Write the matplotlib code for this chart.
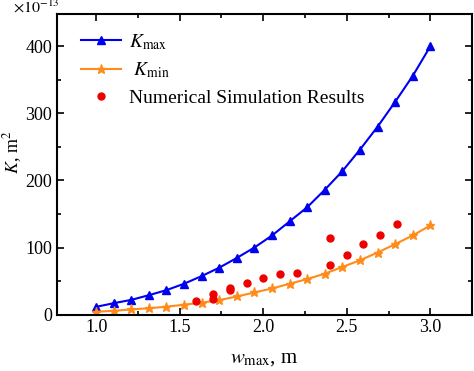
import numpy as np
import matplotlib
matplotlib.use('Agg')
import matplotlib.pyplot as plt
from matplotlib.ticker import MultipleLocator

plt.rcParams['font.family'] = ['Liberation Serif', 'DejaVu Serif']
plt.rcParams['mathtext.fontset'] = 'stix'

# w_max positions of the model curves (20 points from 1 to 3)
w = [1.000, 1.105, 1.211, 1.316, 1.421, 1.526, 1.632, 1.737, 1.842, 1.947,
     2.053, 2.158, 2.263, 2.368, 2.474, 2.579, 2.684, 2.789, 2.895, 3.000]
k_max = [11.6, 17.0, 22.0, 29.0, 36.5, 46.0, 57.5, 70.0, 84.5, 100.0,
         118.0, 139.0, 160.0, 186.0, 214.0, 246.0, 280.0, 317.0, 356.0, 400.0]
k_min = [4.2, 5.7, 7.7, 9.5, 11.8, 14.8, 17.8, 21.6, 27.0, 33.0,
         39.0, 46.0, 53.0, 61.0, 71.0, 81.0, 92.5, 105.0, 118.0, 133.0]

# numerical simulation results
w_sim = [1.6, 1.7, 1.7, 1.8, 1.8, 1.9, 2.0, 2.1, 2.2, 2.4, 2.4, 2.5, 2.6, 2.7, 2.8]
k_sim = [20.5, 24.0, 30.5, 36.5, 39.0, 47.3, 54.0, 60.0, 61.3, 74.5, 113.5, 88.5, 105.0, 119.0, 135.0]

fig = plt.figure(figsize=(4.74, 3.71), dpi=100)
ax = fig.add_axes([0.120, 0.152, 0.876, 0.810])

ax.plot(w, k_max, '-', color='#0000f0', lw=1.5, marker='^', ms=5.5,
        label=r'$\mathit{K}_{\rm max}$')
ax.plot(w, k_min, '-', color='#ff8c1a', lw=1.5, marker='*', ms=6.5,
        label=r' $\mathit{K}_{\rm min}$')
ax.plot(w_sim, k_sim, 'o', color='#ee0000', ms=5, ls='none',
        label='Numerical Simulation Results')

ax.set_xlim(0.765, 3.25)
ax.set_ylim(0, 448)
ax.xaxis.set_major_locator(MultipleLocator(0.5))
ax.xaxis.set_minor_locator(MultipleLocator(0.25))
ax.yaxis.set_major_locator(MultipleLocator(100))
ax.yaxis.set_minor_locator(MultipleLocator(50))
ax.tick_params(which='both', direction='in', top=True, right=True, width=1.2, labelsize=13)
ax.tick_params(which='major', length=5)
ax.tick_params(which='minor', length=3)
for s in ax.spines.values():
    s.set_linewidth(1.5)

ax.set_xlabel(r'$\mathit{w}_{\rm max}$, m', fontsize=15, labelpad=9)
ax.set_ylabel(r'$\mathit{K}$, m$^2$', fontsize=13)
ax.yaxis.set_label_coords(-0.078, 0.54)
fig.text(0.125, 1 - 12.5 / 371, r'$\times10^{-13}$', ha='right', va='baseline', fontsize=11.5)

ax.legend(loc='upper left', frameon=False, fontsize=14, handlelength=2.05,
          handletextpad=0.45, borderaxespad=0.3, labelspacing=0.45,
          bbox_to_anchor=(0.025, 0.985))

fig.savefig('out.png', dpi=100)
